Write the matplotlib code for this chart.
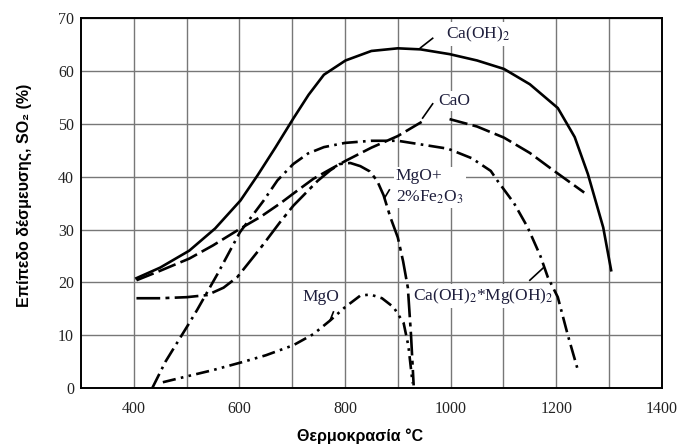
import numpy as np
import matplotlib
matplotlib.use("Agg")
import matplotlib.pyplot as plt

plt.rcParams['mathtext.fontset'] = 'stix'

# Ca(OH)2 - solid
caoh_x = [405, 450, 505, 554, 602, 634, 668, 702, 731, 760, 801, 850, 900, 943, 998, 1050, 1101, 1150, 1203, 1235, 1260, 1289, 1304]
caoh_y = [20.8, 22.8, 26, 30.2, 35.5, 40.2, 45.5, 51, 55.5, 59.3, 62, 63.8, 64.3, 64.1, 63.2, 62, 60.4, 57.5, 53, 47.5, 40.5, 30.4, 22.3]

# CaO - dashed (gap where the label sits)
cao_x = [405, 450, 505, 550, 602, 640, 678, 702, 740, 772, 801, 850, 900, 949, 975, 998, 1050, 1101, 1150, 1196, 1253]
cao_y = [20.4, 22.2, 24.5, 27, 30.2, 32.4, 35, 36.8, 39.6, 41.4, 43, 45.5, 47.7, 50.6, np.nan, 50.9, 49.5, 47.4, 44.5, 41.1, 37]

# Ca(OH)2*Mg(OH)2 - dash dot
camg_x = [435, 460, 505, 520, 558, 601, 646, 672, 702, 730, 760, 800, 850, 900, 995, 1040, 1076, 1089, 1120, 1146, 1170, 1184, 1203, 1222, 1241]
camg_y = [0, 5, 12.3, 14.8, 21.5, 29.5, 35.5, 39.3, 42.4, 44.4, 45.6, 46.4, 46.8, 46.8, 45.3, 43.5, 41.1, 39.2, 35, 30.4, 25, 21, 17.2, 10, 3.4]

# MgO + 2% Fe2O3
mgfe_x = [405, 450, 500, 539, 570, 596, 640, 677, 702, 748, 772, 790, 810, 829, 847, 861, 873, 886, 900, 910, 919, 925, 930]
mgfe_y = [17, 17, 17.2, 17.6, 19, 21, 26.5, 31.4, 34.5, 39.2, 41.2, 42.4, 42.6, 42, 41, 39.2, 36.5, 32.3, 28.5, 24, 19, 10, 0.5]

# MgO
mgo_x = [455, 500, 550, 605, 650, 702, 740, 772, 800, 829, 848, 870, 892, 911, 920, 928]
mgo_y = [1.1, 2.2, 3.4, 4.9, 6.2, 8.1, 10.2, 12.8, 15.3, 17.5, 17.7, 17.0, 15.3, 12.3, 8, 0.9]

x_ticks = [400, 600, 800, 1000, 1200, 1400]
x_minor = [500, 700, 900, 1100, 1300]
y_ticks = [0, 10, 20, 30, 40, 50, 60, 70]

fig = plt.figure(figsize=(6.83, 4.44), dpi=100)
ax = fig.add_axes([0.1186, 0.126, 0.8504, 0.833])

ax.set_xlim(300, 1400)
ax.set_ylim(0, 70)
ax.set_xticks(x_ticks)
ax.set_xticks(x_minor, minor=True)
ax.set_yticks(y_ticks)
ax.grid(True, which='both', color='#777777', linewidth=1.0, zorder=0)
ax.set_axisbelow(True)
ax.tick_params(which='both', length=0)
ax.tick_params(axis='x', pad=9)
ax.tick_params(axis='y', pad=5)
for lab in ax.get_xticklabels() + ax.get_yticklabels():
    lab.set_fontfamily('Liberation Serif')
    lab.set_fontsize(11.5)
    lab.set_color('#222222')
for s in ax.spines.values():
    s.set_linewidth(1.4)

lw = 1.9
ax.plot(caoh_x, caoh_y, color='black', lw=lw, linestyle='-', zorder=4)
ax.plot(cao_x, cao_y, color='black', lw=lw, linestyle=(0, (7, 2)), zorder=4)
ax.plot(camg_x, camg_y, color='black', lw=lw, linestyle=(0, (6, 2, 1, 2)), zorder=4)
ax.plot(mgfe_x, mgfe_y, color='black', lw=lw, linestyle=(0, (9, 2, 1.5, 2)), zorder=4)
ax.plot(mgo_x, mgo_y, color='black', lw=lw, linestyle=(0, (5, 2, 1, 2, 1, 2)), zorder=4)

# leaders
lk = dict(color='black', lw=1.2, zorder=4)
ax.plot([943, 966], [64.4, 66.2], **lk)
ax.plot([947, 966], [51.1, 53.8], **lk)
ax.plot([1150, 1176], [20.4, 22.8], **lk)
ax.plot([875, 884], [36.0, 37.5], **lk)
ax.plot([772, 778], [12.9, 14.4], **lk)

tk = dict(fontfamily='Liberation Serif', fontsize=12.5, color='#1e1e3c', ha='left', va='center', zorder=3,
          bbox=dict(facecolor='white', edgecolor='none', pad=1.5))
ax.text(991, 67, 'Ca(OH)$_2$', **tk)
ax.text(977, 54.3, 'CaO', **tk)
ax.text(896, 38.0, 'MgO+\n2%Fe$_2$O$_3$', linespacing=1.35, **tk)
ax.text(719, 17.2, 'MgO', **tk)
ax.text(928, 17.5, 'Ca(OH)$_2$*Mg(OH)$_2$', **tk)

ax.set_xlabel('Θερμοκρασία °C', fontfamily=['Liberation Sans', 'DejaVu Sans'], fontweight='bold', fontsize=11.5)
ax.set_ylabel('Επίπεδο δέσμευσης, SO₂ (%)', fontfamily=['Liberation Sans', 'DejaVu Sans'], fontweight='bold', fontsize=11.5)
ax.xaxis.set_label_coords(0.48, -0.11)
ax.yaxis.set_label_coords(-0.085, 0.52)

fig.savefig('out.png', dpi=100)
